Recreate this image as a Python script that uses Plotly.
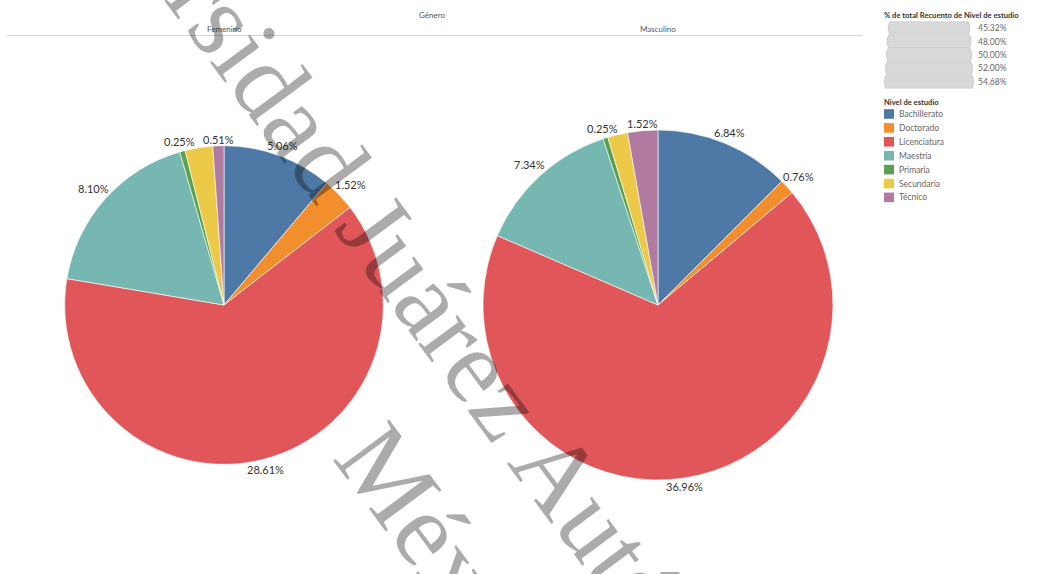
import math
import plotly.graph_objects as go

# ---------------- data ----------------
generos = ["Femenino", "Masculino"]
niveles = ["Bachillerato", "Doctorado", "Licenciatura", "Maestría", "Primaria", "Secundaria", "Técnico"]
colores = ["#4e79a7", "#f28e2b", "#e15759", "#76b7b2", "#59a14f", "#edc948", "#b07aa1"]
pct_femenino = [5.06, 1.52, 28.61, 8.10, 0.25, 1.27, 0.51]
pct_masculino = [6.84, 0.76, 36.96, 7.34, 0.25, 1.01, 1.52]
etiquetas_ocultas = ["Secundaria"]
tamano_leyenda = [45.32, 48.00, 50.00, 52.00, 54.68]

W, H = 1037, 574
R_MAX = 175


def px(x):
    return x / W


def py(y):
    return 1 - y / H


def dominio(cx, cy, r):
    return dict(x=[px(cx - r), px(cx + r)], y=[py(cy + r), py(cy - r)])


def ann(text, x, y, size, color, xanchor="center", yanchor="middle", **kw):
    return dict(text=text, x=px(x), y=py(y), xref="paper", yref="paper", showarrow=False,
                xanchor=xanchor, yanchor=yanchor,
                font=dict(family="Lato", size=size, color=color), **kw)


fig = go.Figure()
shapes = []
annotations = []

centros = [(224, 305), (658, 305)]
series = [pct_femenino, pct_masculino]
total_max = max(sum(s) for s in series)

for g, vals, (cx, cy) in zip(generos, series, centros):
    fig.add_trace(go.Pie(
        labels=niveles, values=vals, textinfo="none", sort=False,
        direction="clockwise", rotation=0,
        marker=dict(colors=colores, line=dict(color="white", width=0.6)),
        domain=dominio(cx, cy, R_MAX), scalegroup="genero", showlegend=False,
        name=g, hovertemplate="%{label}: %{value:.2f}%<extra>" + g + "</extra>",
    ))
    # outside labels positioned from the slice mid-angles
    r = R_MAX * math.sqrt(sum(vals) / total_max)
    tot = sum(vals)
    acc = 0.0
    for n, v in zip(niveles, vals):
        mid = (acc + v / 2) / tot * 2 * math.pi
        acc += v
        if n in etiquetas_ocultas:
            continue
        t = f"{v:.2f}%"
        tw, th = len(t) * 6.2, 12
        d = r + 0.5 * (abs(math.sin(mid)) * tw + abs(math.cos(mid)) * th)
        lx = cx + d * math.sin(mid)
        ly = cy - d * math.cos(mid)
        annotations.append(ann(t, lx, ly, 11, "#333333"))

# headers
annotations.append(ann("Género", 432, 15, 8, "#555555"))
for g, (cx, cy) in zip(generos, centros):
    annotations.append(ann(g, cx, 29, 8, "#555555"))
shapes.append(dict(type="line", xref="paper", yref="paper", x0=px(7), x1=px(862),
                   y0=py(35.5), y1=py(35.5), line=dict(color="#d4d4d4", width=1)))

# size legend
annotations.append(ann("<b>% de total Recuento de Nivel de estudio</b>", 882, 15, 7.6, "#333333",
                       xanchor="left"))
vmax = max(tamano_leyenda)
for i, v in enumerate(tamano_leyenda):
    yc = 28 + i * 13.5
    w = 87 * math.sqrt(v / vmax)
    xl, xr = 929 - w / 2, 929 + w / 2
    yt, yb = yc - 6.2, yc + 6.2
    path = (f"M {px(xl)} {py(yt)} Q {px(xl - 2.5)} {py(yc)} {px(xl)} {py(yb)} "
            f"L {px(xr)} {py(yb)} Q {px(xr + 2.5)} {py(yc)} {px(xr)} {py(yt)} Z")
    shapes.append(dict(type="path", xref="paper", yref="paper", path=path,
                       fillcolor="#d9d9d9", line=dict(color="#bdbdbd", width=0.6)))
    annotations.append(ann(f"{v:.2f}%", 976, yc, 8.5, "#666666", xanchor="left"))

# color legend
annotations.append(ann("<b>Nivel de estudio</b>", 882, 102, 7.6, "#333333", xanchor="left"))
for i, (n, c) in enumerate(zip(niveles, colores)):
    yc = 114 + i * 13.9
    shapes.append(dict(type="rect", xref="paper", yref="paper", x0=px(884), x1=px(894),
                       y0=py(yc + 4.8), y1=py(yc - 4.8), fillcolor=c, line=dict(width=0)))
    annotations.append(ann(n, 897, yc, 8.5, "#666666", xanchor="left"))

# watermark
annotations.append(dict(text="Universidad Juárez Autónoma de Tabasco<br>México",
                        x=px(512), y=py(526), xref="paper", yref="paper", showarrow=False,
                        xanchor="center", yanchor="middle",
                        textangle=53.5, font=dict(family="Liberation Serif", size=106,
                                                   color="rgba(0,0,0,0.33)")))

fig.update_layout(
    width=W, height=H, margin=dict(l=0, r=0, t=0, b=0),
    paper_bgcolor="white", plot_bgcolor="white",
    shapes=shapes, annotations=annotations, showlegend=False,
)

fig.write_html("out.html", config={"displayModeBar": False},
               post_script="document.body.style.margin='0px';")
